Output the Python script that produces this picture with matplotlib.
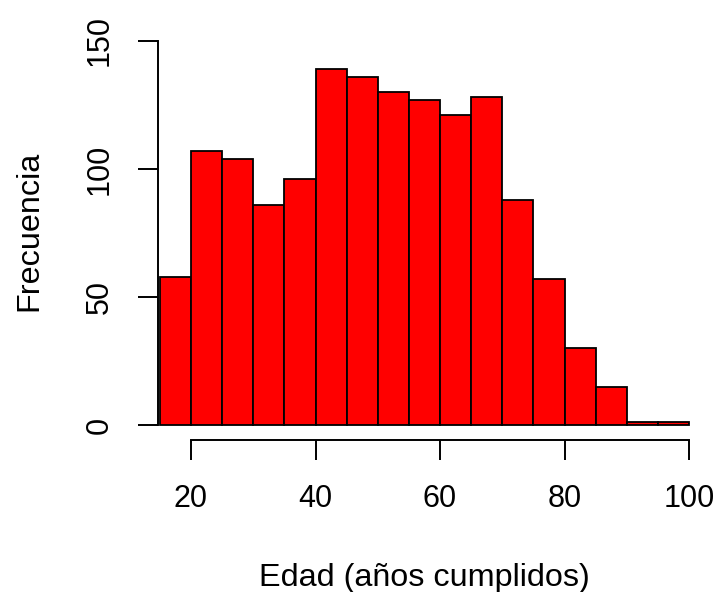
import matplotlib
matplotlib.use("Agg")
import matplotlib.pyplot as plt

bin_edges = [15, 20, 25, 30, 35, 40, 45, 50, 55, 60, 65, 70, 75, 80, 85, 90, 95, 100]
counts = [58, 107, 104, 86, 96, 139, 136, 130, 127, 121, 128, 88, 57, 30, 15, 1, 1]
x_ticks = [20, 40, 60, 80, 100]
y_ticks = [0, 50, 100, 150]

plt.rcParams['font.family'] = ['Liberation Sans', 'DejaVu Sans']

W, H = 717, 592
fig = plt.figure(figsize=(W / 100, H / 100), dpi=100)

# pixel geometry
px_left, px_right = 158, 701.5
px_top, px_bottom = 41, 440.4
ax_w, ax_h = px_right - px_left, px_bottom - px_top
ax = fig.add_axes([px_left / W, 1 - px_bottom / H, ax_w / W, ax_h / H])

widths = [bin_edges[i + 1] - bin_edges[i] for i in range(len(counts))]
ax.bar(bin_edges[:-1], counts, width=widths, align='edge',
       color='#ff0000', edgecolor='black', linewidth=1.3)

ax.set_xlim(14.7, 102)
ax.set_ylim(-6, 150)

for s in ['top', 'right']:
    ax.spines[s].set_visible(False)
ax.spines['left'].set_bounds(0, 150)
ax.spines['bottom'].set_bounds(20, 100)
for s in ['left', 'bottom']:
    ax.spines[s].set_linewidth(1.4)

ax.set_xticks(x_ticks)
ax.set_yticks(y_ticks)
ax.set_yticklabels([str(v) for v in y_ticks], rotation=90, va='center')
ax.tick_params(axis='both', length=14.4, width=1.4, labelsize=22, pad=17)

ax.set_xlabel("Edad (años cumplidos)", fontsize=23.3)
ax.set_ylabel("Frecuencia", fontsize=23.3)
# label positions (pixels from reference) converted to axes fractions
ax.xaxis.set_label_coords((424.5 - px_left) / ax_w, (px_bottom - 563) / ax_h)
ax.yaxis.set_label_coords((44 - px_left) / ax_w, (px_bottom - 231) / ax_h)

fig.savefig("out.png", dpi=100)
